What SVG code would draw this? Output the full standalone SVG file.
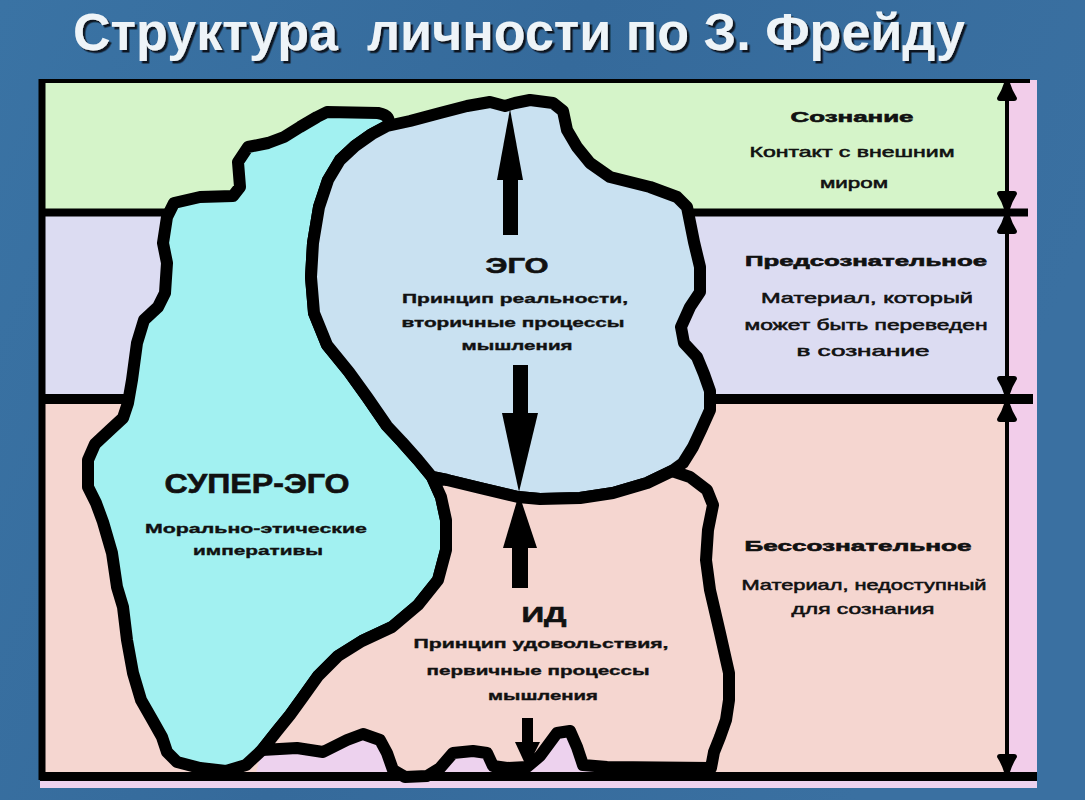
<svg xmlns="http://www.w3.org/2000/svg" width="1085" height="800" viewBox="0 0 1085 800">
  <defs>
    <linearGradient id="bg" x1="0" y1="0" x2="1" y2="0.3">
      <stop offset="0" stop-color="#3a73a4"/>
      <stop offset="0.5" stop-color="#356a9b"/>
      <stop offset="1" stop-color="#3a70a1"/>
    </linearGradient>
    <filter id="shadow" x="-5%" y="-30%" width="110%" height="160%">
      <feDropShadow dx="2.5" dy="2.5" stdDeviation="0.7" flood-color="#0f1822" flood-opacity="1"/>
    </filter>
    <marker id="dimArrow" viewBox="0 0 18 20" refX="18" refY="10" markerWidth="18" markerHeight="20" markerUnits="userSpaceOnUse" orient="auto-start-reverse">
      <path d="M0,3 Q0,0 3,0 Q11,5 18,7 L18,13 Q11,15 3,20 Q0,20 0,17 Z" fill="#000"/>
    </marker>
    <style>
      .outline{fill:none;stroke:#000;stroke-width:12;stroke-linejoin:round;stroke-linecap:round}
      .hline{stroke:#000;fill:none}
      .arrow{fill:#000}
      .dim{stroke:#000;stroke-width:4;fill:none;marker-start:url(#dimArrow);marker-end:url(#dimArrow)}
      text{font-family:"Liberation Sans",Arial,sans-serif;fill:#111;text-anchor:middle}
      .h{font-weight:bold;font-size:15.5px;stroke:#111;stroke-width:0.6}
      .b{font-size:15px;font-weight:normal;stroke:#111;stroke-width:0.55}
      .sb{font-weight:bold;font-size:13px;stroke:#111;stroke-width:0.35}
      .big{font-weight:bold;stroke:#111;stroke-width:0.6}
      .title{font-family:"Liberation Sans Narrow","Liberation Sans",Arial,sans-serif;font-size:51px;font-weight:bold;white-space:pre;fill:#eef4f8}
    </style>
  </defs>

  <rect width="1085" height="800" fill="url(#bg)"/>

  <g id="title">
    <text class="title" x="519" y="50" textLength="892" lengthAdjust="spacingAndGlyphs" filter="url(#shadow)">Структура  личности по З. Фрейду</text>
  </g>

  <g id="bands">
    <rect x="45" y="83" width="962" height="128" fill="#d5f4c9"/>
    <rect x="45" y="212" width="962" height="187" fill="#dcdcf2"/>
    <rect x="45" y="399" width="962" height="377" fill="#f5d6d0"/>
    <rect x="1007" y="80" width="30" height="708" fill="#f2cdea"/>
    <rect x="40" y="776" width="997" height="12" fill="#edd2ee"/>
  </g>

  <g id="superego-fill">
    <path id="superego-shape" d="M327,112 L378,113 Q393,116 387,126 L372,134 L355,146 L340,160 L328,180 L319,207 L313,243 L311,277 L314,313 L327,345 L349,372 L367,397 L387,426 L402,442 L418,460 L432,477 L441,497 L446,520 L446,550 L438,580 L418,605 L392,627 L362,641 L338,656 L318,676 L303,697 L290,715 L277,731 L262,750 L246,765 L226,771 L200,768 L177,762 L167,752 L162,737 L153,721 L141,700 L133,673 L127,640 L123,607 L117,587 L112,553 L103,522 L96,503 L88,487 L88,460 L95,444 L110,430 L123,418 L128,403 L132,380 L137,343 L144,320 L158,307 L165,293 L167,263 L163,243 L167,217 L174,203 L200,197 L233,196 L240,187 L238,162 L248,147 L268,143 L284,137 L300,127 L317,117 Z" fill="#a2f1f1"/>
  </g>
  <g id="ego-fill">
    <path id="ego-shape" d="M387,126 L410,121 L440,113 L467,106 L490,102 L505,106 L515,103 L530,100 L553,103 L563,111 L567,130 L577,147 L590,163 L610,177 L650,187 L677,197 L687,207 L690,222 L694,242 L700,267 L700,292 L690,307 L681,327 L684,343 L697,357 L704,374 L710,391 L710,410 L701,430 L693,447 L683,463 L672,471 L647,483 L613,493 L580,498 L540,499 L518,497 L480,488 L447,480 L432,477 L418,460 L402,442 L387,426 L367,397 L349,372 L327,345 L314,313 L311,277 L313,243 L319,207 L328,180 L340,160 L355,146 L372,134 Z" fill="#c9e1f1"/>
  </g>
  <g id="id-fill">
    <path id="id-shape" d="M432,477 L447,480 L480,488 L518,497 L540,499 L580,498 L613,493 L647,483 L672,471 L690,477 L707,490 L713,505 L708,530 L706,560 L710,590 L720,633 L729,673 L729,700 L726,720 L720,737 L714,752 L711,768 L607,767 L583,765 L577,747 L570,731 L557,733 L540,756 L527,767 L507,768 L493,766 L487,753 L473,751 L453,753 L440,768 L427,776 L405,777 L393,770 L387,753 L380,740 L363,734 L347,740 L323,752 L297,748 L262,750 L277,731 L290,715 L303,697 L318,676 L338,656 L362,641 L392,627 L418,605 L438,580 L446,550 L446,520 L441,497 Z" fill="#f5d6d0"/>
    <path d="M262,750 L297,748 L323,752 L347,740 L363,734 L380,740 L387,753 L393,770 L405,777 L427,776 L440,768 L453,753 L473,751 L487,753 L493,766 L507,768 L527,767 L540,756 L557,733 L570,731 L577,747 L583,765 L607,767 L711,768 L712,777 L255,777 Z" fill="#edd2ee"/>
  </g>

  <g id="grid">
    <path class="hline" d="M40,81 H1030" stroke-width="4"/>
    <path class="hline" d="M42,79 V780" stroke-width="7"/>
    <path class="hline" d="M42,212.5 H1028" stroke-width="8"/>
    <path class="hline" d="M42,399 H1033" stroke-width="10"/>
    <path class="hline" d="M40,776.5 H1037" stroke-width="9"/>
  </g>

  <g id="outlines">
    <use href="#superego-shape" class="outline"/>
    <use href="#ego-shape" class="outline"/>
    <use href="#id-shape" class="outline"/>
  </g>

  <g id="connectors">
    <rect class="arrow" x="503" y="176" width="15" height="59"/>
    <polygon class="arrow" points="497,180 523,180 510,109"/>
    <rect class="arrow" x="513" y="365" width="15" height="50"/>
    <polygon class="arrow" points="502,413 538,413 519,492"/>
    <rect class="arrow" x="512" y="545" width="16" height="43"/>
    <polygon class="arrow" points="503,548 537,548 519,494"/>
    <rect class="arrow" x="522" y="718" width="11" height="26"/>
    <polygon class="arrow" points="515,742 540,742 527,768"/>
    <line class="dim" x1="1007" y1="83" x2="1007" y2="209"/>
    <line class="dim" x1="1007" y1="216" x2="1007" y2="394"/>
    <line class="dim" x1="1007" y1="404" x2="1007" y2="772"/>
  </g>

  <g id="ego-label">
    <text class="big" x="517" y="273" font-size="22" textLength="63" lengthAdjust="spacingAndGlyphs">ЭГО</text>
    <text class="sb" x="515" y="303" textLength="226" lengthAdjust="spacingAndGlyphs">Принцип реальности,</text>
    <text class="sb" x="513" y="327" textLength="223" lengthAdjust="spacingAndGlyphs">вторичные процессы</text>
    <text class="sb" x="517" y="350" textLength="111" lengthAdjust="spacingAndGlyphs">мышления</text>
  </g>
  <g id="superego-label">
    <text class="big" x="257" y="493" font-size="27" textLength="185" lengthAdjust="spacingAndGlyphs">СУПЕР-ЭГО</text>
    <text class="sb" x="256" y="533" textLength="222" lengthAdjust="spacingAndGlyphs">Морально-этические</text>
    <text class="sb" x="258" y="555" textLength="130" lengthAdjust="spacingAndGlyphs">императивы</text>
  </g>
  <g id="id-label">
    <text class="big" x="544" y="622" font-size="22" textLength="45" lengthAdjust="spacingAndGlyphs">ИД</text>
    <text class="sb" x="541" y="648" textLength="255" lengthAdjust="spacingAndGlyphs">Принцип удовольствия,</text>
    <text class="sb" x="538" y="675" textLength="223" lengthAdjust="spacingAndGlyphs">первичные процессы</text>
    <text class="sb" x="543" y="700" textLength="110" lengthAdjust="spacingAndGlyphs">мышления</text>
  </g>

  <g id="conscious-label">
    <text class="h" x="852" y="122" textLength="123" lengthAdjust="spacingAndGlyphs">Сознание</text>
    <text class="b" x="852" y="157" textLength="205" lengthAdjust="spacingAndGlyphs">Контакт с внешним</text>
    <text class="b" x="854" y="188" textLength="68" lengthAdjust="spacingAndGlyphs">миром</text>
  </g>
  <g id="preconscious-label">
    <text class="h" x="866" y="266" textLength="242" lengthAdjust="spacingAndGlyphs">Предсознательное</text>
    <text class="b" x="867" y="303" textLength="212" lengthAdjust="spacingAndGlyphs">Материал, который</text>
    <text class="b" x="866" y="330" textLength="243" lengthAdjust="spacingAndGlyphs">может быть переведен</text>
    <text class="b" x="863" y="356" textLength="133" lengthAdjust="spacingAndGlyphs">в сознание</text>
  </g>
  <g id="unconscious-label">
    <text class="h" x="858" y="551" textLength="227" lengthAdjust="spacingAndGlyphs">Бессознательное</text>
    <text class="b" x="864" y="590" textLength="245" lengthAdjust="spacingAndGlyphs">Материал, недоступный</text>
    <text class="b" x="863" y="614" textLength="143" lengthAdjust="spacingAndGlyphs">для сознания</text>
  </g>
</svg>
